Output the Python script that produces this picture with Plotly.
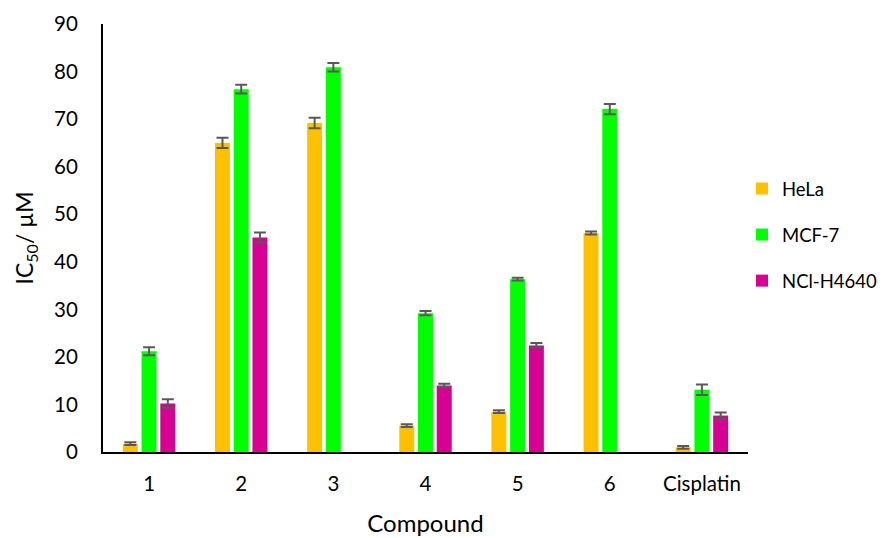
import plotly.graph_objects as go

compounds = ["1", "2", "3", "4", "5", "6", "Cisplatin"]
hela = [1.75, 65.0, 69.2, 5.55, 8.5, 46.05, 0.97]
hela_err = [0.3, 1.1, 1.1, 0.3, 0.3, 0.3, 0.3]
mcf7 = [21.2, 76.3, 80.9, 29.2, 36.35, 72.1, 13.1]
mcf7_err = [0.85, 0.9, 0.9, 0.45, 0.3, 1.1, 1.1]
nci = [10.2, 45.1, None, 14.0, 22.4, None, 7.66]
nci_err = [0.9, 1.05, None, 0.35, 0.5, None, 0.65]

series = [
    ("HeLa", hela, hela_err, "#FFC000"),
    ("MCF-7", mcf7, mcf7_err, "#00FF00"),
    ("NCl-H4640", nci, nci_err, "#D60093"),
]

FONT = "Lato, 'Open Sans', sans-serif"

fig = go.Figure()
for i, (name, vals, errs, col) in enumerate(series):
    fig.add_trace(go.Bar(
        x=compounds, y=vals, name=name, legendgroup=f"g{i}",
        marker=dict(color=col, line=dict(width=0)),
        error_y=dict(type="data", array=errs, visible=True,
                     color="#595959", thickness=2, width=6),
    ))

fig.update_layout(
    width=889, height=538,
    margin=dict(l=95, r=149, t=16, b=94, autoexpand=False),
    paper_bgcolor="white", plot_bgcolor="white",
    font=dict(family=FONT, size=20.5, color="#000000"),
    barmode="group", bargap=0.39, bargroupgap=0.2,
    showlegend=True,
    legend=dict(x=0.9907, xanchor="left", y=0.507, yanchor="middle",
                tracegroupgap=19, font=dict(size=18.5), itemwidth=30,
                bgcolor="rgba(0,0,0,0)"),
    xaxis=dict(
        automargin=False,
        showline=True, linecolor="#000000", linewidth=2,
        ticks="", showgrid=False, ticklabelstandoff=12,
        title=dict(text="Compound", font=dict(size=24), standoff=22),
    ),
    yaxis=dict(
        automargin=False,
        range=[0, 90], dtick=10, showline=True, linecolor="#000000",
        linewidth=2, ticks="", showgrid=False, zeroline=False,
        ticklabelstandoff=19,
        title=dict(text="IC<sub>50</sub>/ µM", font=dict(size=23), standoff=14),
    ),
)

fig.write_html("out.html")
